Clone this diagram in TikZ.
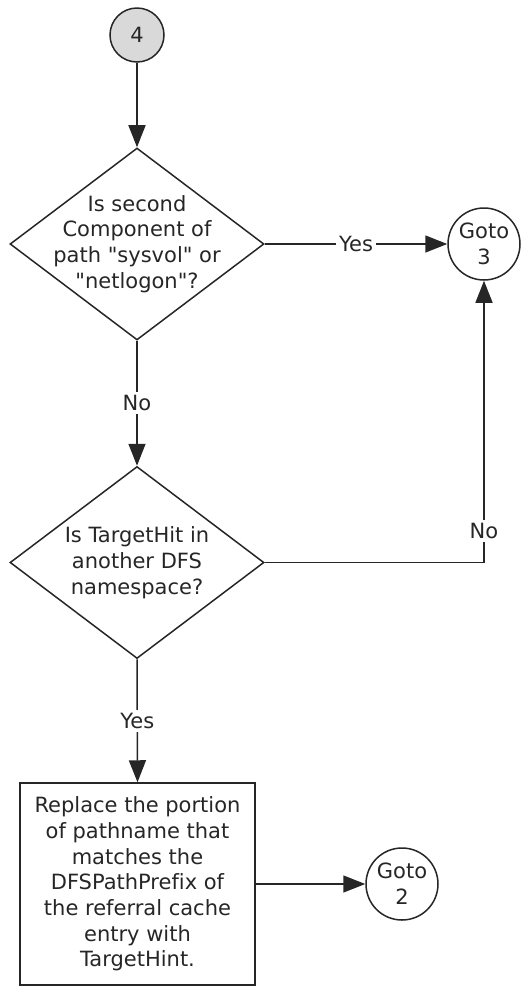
\documentclass[tikz,border=0pt]{standalone}
\usepackage{fontspec}
\setmainfont[Ligatures={TeX,NoCommon}]{DejaVu Sans}
\usepackage{tikz}
\usetikzlibrary{calc}
\usetikzlibrary{arrows.meta}
\usetikzlibrary{shapes.geometric}
\tikzset{flow/.style={line width=0.75pt,draw=black!85,-{Triangle[length=11pt,width=8.5pt]}}}
\tikzset{lbl/.style={fill=white,inner sep=1.5pt,text=black!85}}
\tikzset{decision/.style={diamond,draw=black!85,line width=0.75pt,inner sep=-20pt,minimum width=127pt,minimum height=96pt,align=center,text=black!85}}
\tikzset{process/.style={rectangle,draw=black!85,line width=0.75pt,minimum width=117.5pt,minimum height=101pt,align=center,text=black!85}}
\tikzset{
startc/.style={circle,draw=black!85,fill=black!15,line width=0.75pt,minimum size=27pt,inner sep=0pt,text=black!85},
gotoc/.style={circle,draw=black!85,line width=0.75pt,minimum size=36pt,inner sep=0pt,align=center,text=black!85}
}
\newcommand{\qt}{\textquotedbl}

\begin{document}
\begin{tikzpicture}[x=0.5pt,y=-0.5pt,font=\fontsize{10.5}{12.85}\selectfont]
\useasboundingbox (0,0) rectangle (520,986);

\node (S4) at (137,35) [startc] {4};
\node (D1) at (137,244) [decision] {Is second\\Component of\\path \qt sysvol\qt{} or\\\qt netlogon\qt?};
\node (D2) at (137,562.5) [decision] {Is TargetHit in\\another DFS\\namespace?};
\node (R1) at (137.5,884) [process] {Replace the portion\\of pathname that\\matches the\\DFSPathPrefix of\\the referral cache\\entry with\\TargetHint.};

\foreach \n / \x / \y / \k in {G3/484/244/3,G2/402/884/2}
{
	\node (\n) at (\x,\y) [gotoc] {Goto\\\k};
}

\draw[flow] (S4) -- (D1);
\draw[flow] (D1.east) -- node[lbl] {Yes} (G3);
\draw[flow] (D1.south) -- node[lbl] {No} (D2.north);
\draw[flow] (D2.east) -| node[lbl,pos=0.556] {No} (G3.south);
\draw[flow] (D2.south) -- node[lbl] {Yes} (R1.north);
\draw[flow] (R1.east) -- (G2);
\end{tikzpicture}
\end{document}
